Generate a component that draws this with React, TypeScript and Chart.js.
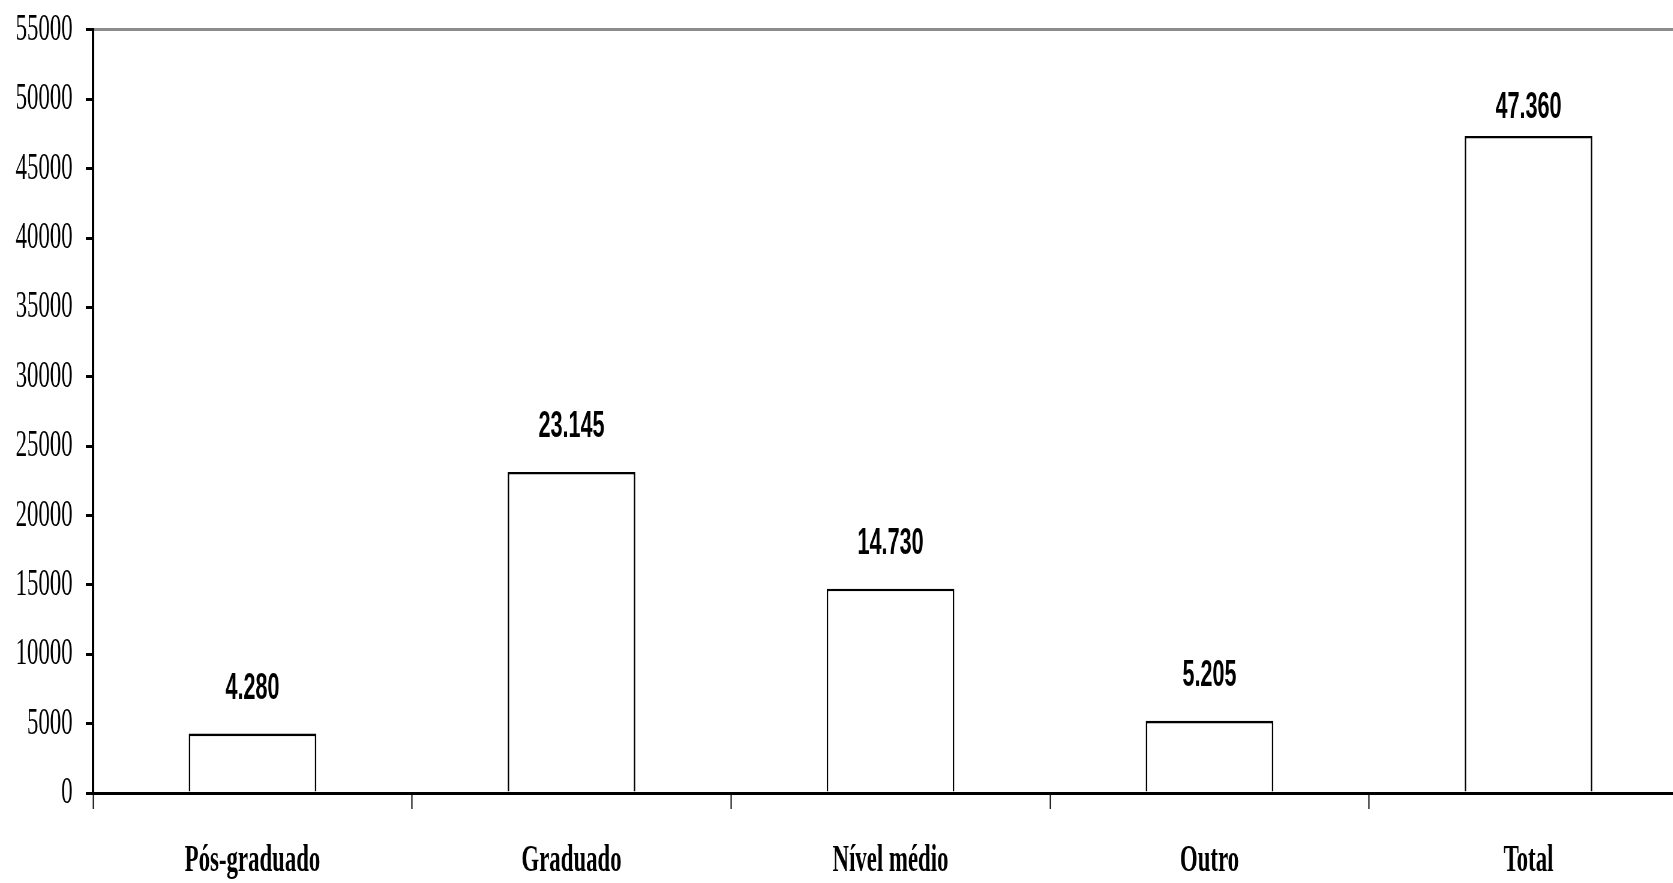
import React, { useEffect, useRef } from "react";
import { Chart, registerables } from "chart.js";

Chart.register(...registerables);

const categories: string[] = ["Pós-graduado", "Graduado", "Nível médio", "Outro", "Total"];
const values: number[] = [4280, 23145, 14730, 5205, 47360];
const yMin = 0;
const yMax = 55000;
const yStep = 5000;

// horizontal compression used to mimic the condensed original
const SX = 0.6;
const PRE_W = 2830;
const H = 883;

const fmt = (v: number) => String(v).replace(/\B(?=(\d{3})+(?!\d))/g, ".");

const valueLabels = {
  id: "valueLabels",
  afterDatasetsDraw(chart: any) {
    const ctx = chart.ctx;
    const meta = chart.getDatasetMeta(0);
    const area = chart.chartArea;
    ctx.save();
    ctx.font = "bold 36px 'Liberation Sans', Arial, sans-serif";
    ctx.fillStyle = "#000";
    ctx.textAlign = "center";
    ctx.textBaseline = "alphabetic";
    meta.data.forEach((bar: any, i: number) => {
      const y = Math.max(bar.y - 35, area.top + 88);
      ctx.fillText(fmt(values[i]), bar.x, y);
    });
    ctx.restore();
  },
};

export default function App() {
  const ref = useRef<HTMLCanvasElement | null>(null);

  useEffect(() => {
    if (!ref.current) return;
    const chart = new Chart(ref.current, {
      type: "bar",
      data: {
        labels: categories,
        datasets: [
          {
            data: values,
            backgroundColor: "#ffffff",
            borderColor: "#000000",
            borderWidth: 2.6,
            borderSkipped: "bottom",
            barPercentage: 0.4,
            categoryPercentage: 1,
          },
        ],
      },
      options: {
        responsive: false,
        animation: false,
        devicePixelRatio: 1,
        layout: { padding: { left: 0, top: 0, right: PRE_W - (155 + 5 * (319 / SX)), bottom: 0 } },
        plugins: {
          legend: { display: false },
          tooltip: { enabled: false },
          title: { display: false },
        },
        scales: {
          x: {
            type: "category",
            offset: true,
            afterFit: (s: any) => {
              s.height = 90;
            },
            border: { display: true, color: "#000", width: 3 },
            grid: {
              offset: true,
              drawOnChartArea: false,
              drawTicks: true,
              tickLength: 16,
              tickColor: "#000",
              tickWidth: 2,
              color: "#000",
            },
            ticks: {
              color: "#000",
              padding: 29,
              maxRotation: 0,
              autoSkip: false,
              font: { family: "'Liberation Serif', 'Times New Roman', serif", size: 38, weight: "bold" },
            },
          },
          y: {
            min: yMin,
            max: yMax,
            afterFit: (s: any) => {
              s.width = 155;
            },
            border: { display: true, color: "#000", width: 4 },
            grid: {
              drawOnChartArea: true,
              drawTicks: true,
              tickLength: 12,
              tickColor: "#000",
              tickWidth: 3,
              lineWidth: 3,
              color: (c: any) => (c.tick && c.tick.value === yMax ? "#8c8c8c" : "rgba(0,0,0,0)"),
            },
            ticks: {
              stepSize: yStep,
              color: "#000",
              padding: 22,
              autoSkip: false,
              font: { family: "'Liberation Serif', 'Times New Roman', serif", size: 38, lineHeight: 0.42 },
              callback: (v: any) => String(v),
            },
          },
        },
      },
      plugins: [valueLabels],
    });
    return () => chart.destroy();
  }, []);

  return (
    <div
      style={{
        position: "fixed",
        left: 0,
        top: 0,
        width: 1673,
        height: H,
        overflow: "hidden",
        background: "#fff",
      }}
    >
      <div style={{ width: PRE_W, height: H, transform: `scaleX(${SX})`, transformOrigin: "0 0" }}>
        <canvas ref={ref} width={PRE_W} height={H} style={{ width: PRE_W, height: H, display: "block" }} />
      </div>
    </div>
  );
}
